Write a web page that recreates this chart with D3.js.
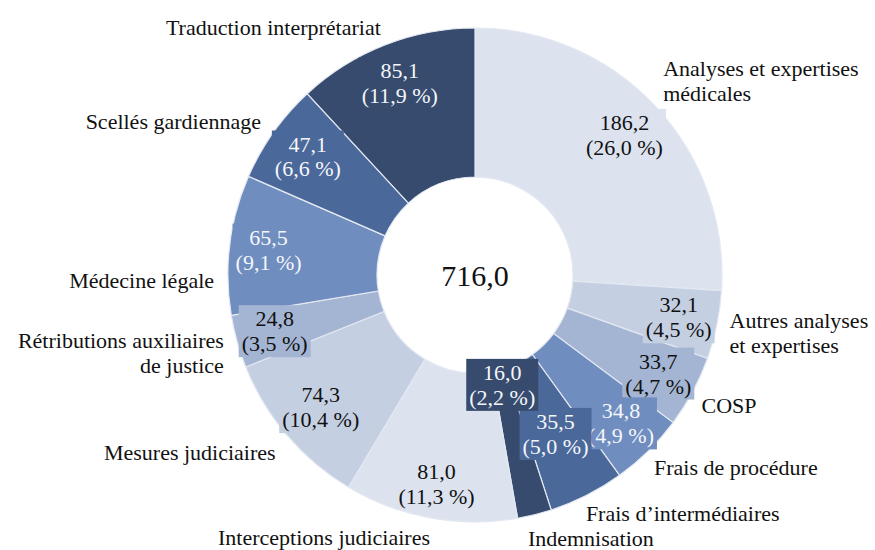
<!DOCTYPE html>
<html>
<head>
<meta charset="utf-8">
<script src="https://cdn.jsdelivr.net/npm/d3@7"></script>
<style>
  body { margin: 0; background: #fff; }
  text { font-family: "Liberation Serif", "DejaVu Serif", serif; }
</style>
</head>
<body>
<svg id="chart" width="875" height="550"></svg>
<script>
// data
const categories = [
    "Analyses et expertises\nmédicales",
    "Autres analyses\net expertises",
    "COSP",
    "Frais de procédure",
    "Frais d\u2019intermédiaires",
    "Indemnisation",
    "Interceptions judiciaires",
    "Mesures judiciaires",
    "Rétributions auxiliaires\nde justice",
    "Médecine légale",
    "Scellés gardiennage",
    "Traduction interprétariat"
];
const values = [186.2, 32.1, 33.7, 34.8, 35.5, 16.0, 81.0, 74.3, 24.8, 65.5, 47.1, 85.1];
const total = 716.0;

// look
const palette = ["#dce3ef", "#c5cfe2", "#a4b5d3", "#6f8dbf", "#4a6899", "#364b6d"];
const textColors = ["#111", "#111", "#111", "#f4f6fa", "#f4f6fa", "#f4f6fa"];

// label layout (radius of value label, nudge of the category label)
const valueRadius = [205, 208, 208, 208, 178, 113, 212, 203, 208, 208, 205, 206];
const nameNudge = [[-5, -13], [-5, 4], [-7, 5], [-7, 4], [-9, 2], [-11, 6],
                   [-103, 2], [2, 5], [4, 6], [2, 38], [2, 0], [-105, -1]];
const centered = [6, 11];

const cx = 475, cy = 275, outerR = 247, innerR = 98, lineH = 25, fontSize = 22;

const locale = d3.formatLocale({decimal: ",", thousands: " ", grouping: [3], currency: ["", ""]});
const fmt = locale.format(".1f");

const svg = d3.select("#chart");
const g = svg.append("g").attr("transform", `translate(${cx},${cy})`);

const pie = d3.pie().sort(null).value(d => d);
const arcs = pie(values);
const arc = d3.arc().innerRadius(innerR).outerRadius(outerR);

g.selectAll("path.slice")
    .data(arcs)
    .join("path")
    .attr("class", "slice")
    .attr("d", arc)
    .attr("fill", (d, i) => palette[i % palette.length])
    .attr("stroke", "#e3e8f1")
    .attr("stroke-width", 1.2);

// value labels with a filled box
const midAngle = d => (d.startAngle + d.endAngle) / 2;

arcs.forEach((d, i) => {
    const a = midAngle(d), r = valueRadius[i];
    const x = r * Math.sin(a), y = -r * Math.cos(a);
    const lab = g.append("g").attr("transform", `translate(${x},${y})`);
    const t = lab.append("text")
        .attr("text-anchor", "middle")
        .attr("font-size", fontSize)
        .attr("fill", textColors[i % textColors.length]);
    const lines = [fmt(values[i]), "(" + fmt(values[i] / total * 100) + " %)"];
    lines.forEach((s, k) => {
        t.append("tspan").attr("x", 0)
            .attr("y", (k - (lines.length - 1) / 2) * lineH)
            .attr("dy", "0.35em")
            .text(s);
    });
    const bb = t.node().getBBox();
    lab.insert("rect", "text")
        .attr("x", bb.x - 3).attr("y", bb.y - 1)
        .attr("width", bb.width + 6).attr("height", bb.height + 2)
        .attr("fill", palette[i % palette.length]);
});

// category labels outside the ring
arcs.forEach((d, i) => {
    const a = midAngle(d), r = 265;
    const x = r * Math.sin(a) + nameNudge[i][0];
    const y = -r * Math.cos(a) + nameNudge[i][1];
    const anchor = centered.includes(i) ? "middle" : (x > 0 ? "start" : "end");
    const lines = categories[i].split("\n");
    const t = g.append("text")
        .attr("text-anchor", anchor)
        .attr("font-size", fontSize)
        .attr("fill", "#111");
    lines.forEach((s, k) => {
        t.append("tspan").attr("x", x)
            .attr("y", y + (k - (lines.length - 1) / 2) * lineH)
            .attr("dy", "0.35em")
            .text(s);
    });
});

// total in the hole
g.append("text")
    .attr("text-anchor", "middle")
    .attr("y", 0)
    .attr("dy", "0.35em")
    .attr("font-size", 30)
    .attr("fill", "#111")
    .text(fmt(total));
</script>
</body>
</html>
